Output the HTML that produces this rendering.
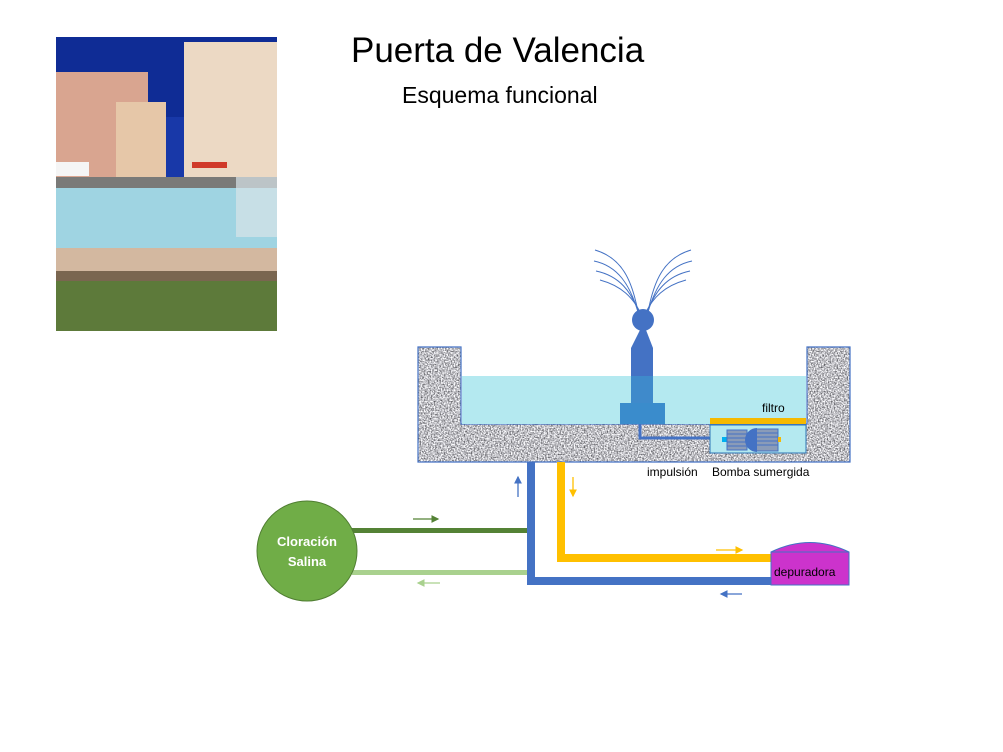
<!DOCTYPE html>
<html><head><meta charset="utf-8"><style>
html,body{margin:0;padding:0;background:#fff;}
body{width:1003px;height:752px;position:relative;overflow:hidden;font-family:"Liberation Sans",sans-serif;}
.t{position:absolute;white-space:nowrap;}
</style></head><body>
<div class="t" style="left:351px;top:31px;font-size:35px;color:#000;">Puerta de Valencia</div>
<div class="t" style="left:402px;top:82px;font-size:23px;color:#000;">Esquema funcional</div>

<svg width="1003" height="752" style="position:absolute;left:0;top:0">
<defs>
<filter id="gr" x="0" y="0" width="100%" height="100%" color-interpolation-filters="sRGB">
<feTurbulence type="fractalNoise" baseFrequency="0.7" numOctaves="2" seed="3"/>
<feColorMatrix type="matrix" values="1.4 0 0 0 0.05  1.4 0 0 0 0.05  1.4 0 0 0 0.07  0 0 0 0 1"/>
</filter>
<clipPath id="bc"><path d="M418,347 H461 V424 H807 V347 H850 V462 H418 Z"/></clipPath>
<marker id="a" markerWidth="6" markerHeight="6" refX="5" refY="3" orient="auto"><path d="M0,0 L6,3 L0,6 Z" fill="context-stroke"/></marker>
</defs>

<!-- photo -->
<g transform="translate(56,37)">
<rect width="221" height="294" fill="#1838a8"/>
<rect x="0" y="0" width="221" height="80" fill="#0f2c95"/>
<rect x="0" y="35" width="92" height="105" fill="#d9a590"/>
<rect x="60" y="65" width="50" height="75" fill="#e6c7a8"/>
<rect x="128" y="5" width="93" height="138" fill="#ecd9c4"/>
<rect x="136" y="125" width="35" height="6" fill="#d03a2a"/>
<rect x="0" y="125" width="33" height="14" fill="#f5f5f5"/>
<rect x="0" y="140" width="221" height="12" fill="#7a7a78"/>
<rect x="0" y="151" width="221" height="64" fill="#9fd4e2"/>
<rect x="180" y="140" width="41" height="60" fill="#d8e4e8" opacity="0.7"/>
<rect x="0" y="211" width="221" height="25" fill="#d3b8a0"/>
<rect x="0" y="234" width="221" height="60" fill="#5d7a3a"/>
<rect x="0" y="234" width="221" height="10" fill="#7a6650"/>
</g>

<!-- basin stone -->
<g clip-path="url(#bc)">
<rect x="418" y="347" width="432" height="115" filter="url(#gr)"/>
</g>
<path d="M418,347 H461 V424 H807 V347 H850 V462 H418 Z" fill="none" stroke="#4472c4" stroke-width="1.2"/>
<!-- water -->
<rect x="462" y="376" width="344" height="48" fill="#b4e9f0"/>

<!-- fountain jets -->
<g fill="none" stroke="#4472c4" stroke-width="1">
<path d="M638,312 C632,280 622,258 595,250"/>
<path d="M638,312 C630,285 618,266 594,261"/>
<path d="M639,312 C631,292 620,276 596,271"/>
<path d="M640,312 C633,298 622,286 600,280"/>
<path d="M648,312 C654,280 664,258 691,250"/>
<path d="M648,312 C656,285 668,266 692,261"/>
<path d="M647,312 C655,292 666,276 690,271"/>
<path d="M646,312 C653,298 664,286 686,280"/>
</g>
<circle cx="643" cy="320" r="11" fill="#4472c4"/>
<path d="M640,330 L646,330 L653,348 L631,348 Z" fill="#4472c4"/>
<rect x="631" y="348" width="22" height="28" fill="#4472c4"/>
<rect x="631" y="376" width="22" height="28" fill="#3f8acb"/>
<rect x="620" y="403" width="45" height="21" fill="#3a8ccc"/>
<path d="M640,424 V438 H726" fill="none" stroke="#4472c4" stroke-width="3"/>

<!-- filter & pump -->
<rect x="710" y="425" width="96" height="28" fill="#b4e9f0" stroke="#2e75b6" stroke-width="1"/>
<rect x="710" y="418" width="96" height="6" fill="#f6b900"/>
<rect x="722" y="437" width="5" height="5" fill="#00b0f0"/>
<rect x="727" y="430" width="20" height="20" fill="#8a9bb8" stroke="#4472c4"/>
<g stroke="#4472c4" stroke-width="1">
<line x1="727" y1="434" x2="747" y2="434"/><line x1="727" y1="438" x2="747" y2="438"/><line x1="727" y1="442" x2="747" y2="442"/><line x1="727" y1="446" x2="747" y2="446"/>
</g>
<rect x="756" y="429" width="22" height="22" fill="#8a9bb8" stroke="#4472c4"/>
<g stroke="#4472c4" stroke-width="1">
<line x1="756" y1="433" x2="778" y2="433"/><line x1="756" y1="437" x2="778" y2="437"/><line x1="756" y1="441" x2="778" y2="441"/><line x1="756" y1="445" x2="778" y2="445"/>
</g>
<path d="M757,428 A12,12 0 0 0 757,452 Z" fill="#4472c4"/>
<rect x="778" y="437" width="3" height="5" fill="#f6b900"/>

<!-- pipes -->
<rect x="527" y="462" width="8" height="123" fill="#4472c4"/>
<rect x="527" y="577" width="263" height="8" fill="#4472c4"/>
<rect x="557" y="462" width="8" height="100" fill="#ffc000"/>
<rect x="557" y="554" width="215" height="8" fill="#ffc000"/>
<rect x="352" y="528" width="175" height="5" fill="#548235"/>
<rect x="352" y="570" width="175" height="5" fill="#a9d18e"/>

<!-- arrows -->
<line x1="518" y1="497" x2="518" y2="477" stroke="#4472c4" stroke-width="1.3" marker-end="url(#a)"/>
<line x1="573" y1="477" x2="573" y2="496" stroke="#ffc000" stroke-width="1.3" marker-end="url(#a)"/>
<line x1="413" y1="519" x2="438" y2="519" stroke="#548235" stroke-width="1.3" marker-end="url(#a)"/>
<line x1="440" y1="583" x2="418" y2="583" stroke="#a9d18e" stroke-width="1.3" marker-end="url(#a)"/>
<line x1="716" y1="550" x2="742" y2="550" stroke="#ffc000" stroke-width="1.3" marker-end="url(#a)"/>
<line x1="742" y1="594" x2="721" y2="594" stroke="#4472c4" stroke-width="1.3" marker-end="url(#a)"/>

<!-- depuradora -->
<path d="M771,552 Q810,533 849,552 V585 H771 Z" fill="#cc33cc" stroke="#4472c4" stroke-width="1"/>
<line x1="771" y1="552" x2="849" y2="552" stroke="#4472c4" stroke-width="1"/>
<text x="774" y="576" font-family="Liberation Sans" font-size="12" fill="#000">depuradora</text>

<!-- cloracion -->
<circle cx="307" cy="551" r="50" fill="#70ad47" stroke="#507e32" stroke-width="1"/>
<text x="307" y="546" text-anchor="middle" font-family="Liberation Sans" font-weight="bold" font-size="13" fill="#fff">Cloración</text>
<text x="307" y="566" text-anchor="middle" font-family="Liberation Sans" font-weight="bold" font-size="13" fill="#fff">Salina</text>

<text x="762" y="412" font-family="Liberation Sans" font-size="12" fill="#000">filtro</text>
<text x="647" y="476" font-family="Liberation Sans" font-size="12" fill="#000">impulsión</text>
<text x="712" y="476" font-family="Liberation Sans" font-size="12" fill="#000">Bomba sumergida</text>
</svg>
</body></html>
